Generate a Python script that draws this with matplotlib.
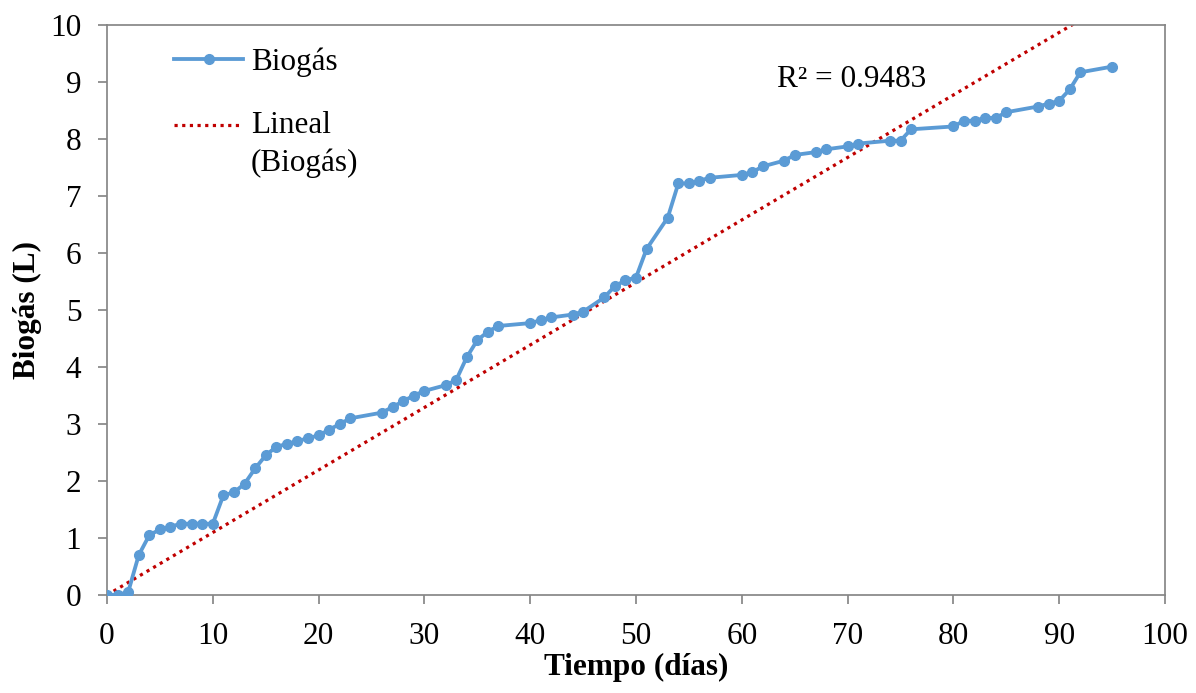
import numpy as np
import matplotlib.pyplot as plt

plt.rcParams['font.family'] = ['Liberation Serif', 'DejaVu Serif']
plt.rcParams['font.size'] = 22.5

# days and cumulative biogas volume (L)
dias = [0, 1, 2, 3, 4, 5, 6, 7, 8, 9, 10, 11, 12, 13, 14, 15, 16, 17, 18, 19,
        20, 21, 22, 23, 26, 27, 28, 29, 30, 32, 33, 34, 35, 36, 37, 40, 41, 42,
        44, 45, 47, 48, 49, 50, 51, 53, 54, 55, 56, 57, 60, 61, 62, 64, 65, 67,
        68, 70, 71, 74, 75, 76, 80, 81, 82, 83, 84, 85, 88, 89, 90, 91, 92, 95]
biogas = [0, 0.0, 0.05, 0.7, 1.05, 1.15, 1.2, 1.25, 1.25, 1.25, 1.25, 1.75,
          1.8, 1.95, 2.22, 2.45, 2.6, 2.65, 2.7, 2.75, 2.8, 2.9, 3.0, 3.1,
          3.2, 3.3, 3.4, 3.5, 3.58, 3.68, 3.77, 4.17, 4.47, 4.62, 4.72,
          4.77, 4.82, 4.87, 4.92, 4.97, 5.22, 5.42, 5.52, 5.57, 6.07, 6.62,
          7.22, 7.22, 7.27, 7.32, 7.37, 7.42, 7.52, 7.62, 7.72, 7.77, 7.82,
          7.87, 7.92, 7.97, 7.97, 8.17, 8.22, 8.32, 8.32, 8.37, 8.37, 8.47,
          8.57, 8.62, 8.67, 8.87, 9.17, 9.27]
r2_text = 'R² = 0.9483'

fig = plt.figure(figsize=(11.96, 6.93), dpi=100)
ax = fig.add_axes([107 / 1196, 1 - 595 / 693, (1165 - 107) / 1196, (595 - 25) / 693])

x = np.array(dias, dtype=float)
y = np.array(biogas)
# linear trend forced through the origin (as Excel with intercept = 0)
m = np.sum(x * y) / np.sum(x * x)
xt = np.array([0, 100])

ax.plot(x, y, color='#5B9BD5', lw=2.75, marker='o', ms=7, label='Biogás', zorder=3)
ax.plot(xt, m * xt, color='#C00000', lw=2.3, ls=(0, (1, 1.4)),
        label='Lineal\n(Biogás)', zorder=2)

ax.set_xlim(0, 100)
ax.set_ylim(0, 10)
ax.set_xticks(range(0, 101, 10))
ax.set_yticks(range(0, 11))
ax.set_xlabel('Tiempo (días)', fontweight='bold', labelpad=1)
ax.set_ylabel('Biogás (L)', fontweight='bold', labelpad=6)

for s in ax.spines.values():
    s.set_color('#868686')
    s.set_linewidth(1.25)
ax.tick_params(color='#868686', width=1.25, length=6.5)
ax.tick_params(axis='y', pad=12)
ax.tick_params(axis='x', pad=13)

ax.text(63.3, 9.05, r2_text, va='center')

leg = ax.legend(loc='upper left', bbox_to_anchor=(0.037, 1.01), frameon=False,
                handlelength=2.2, handletextpad=0.25, labelspacing=1.1)
for t in leg.get_texts():
    t.set_linespacing(1.35)
# put the trend handle level with the first line of its label
trend_handle = leg.get_lines()[1]
trend_handle.set_ydata(np.asarray(trend_handle.get_ydata()) + 14)

fig.savefig('out.png', dpi=100)
